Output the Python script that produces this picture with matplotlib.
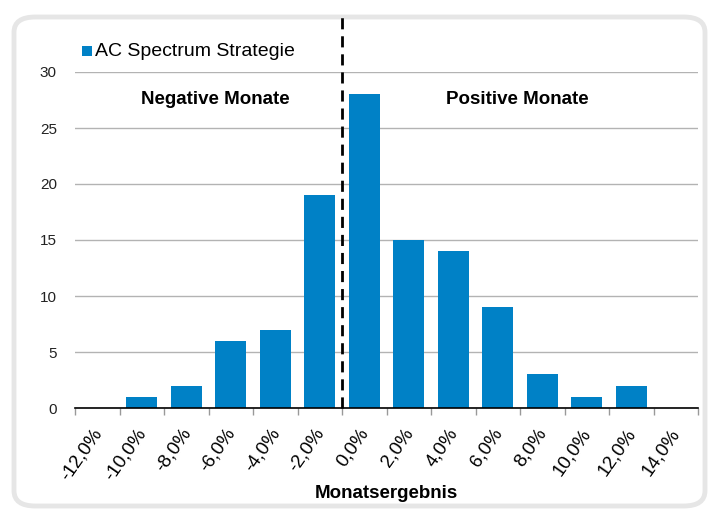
import matplotlib
matplotlib.use("Agg")
import matplotlib.pyplot as plt
from matplotlib.patches import FancyBboxPatch, Rectangle
import matplotlib.transforms as mtransforms

plt.rcParams['font.family'] = ['Liberation Sans', 'DejaVu Sans']

categories = ["-12,0%", "-10,0%", "-8,0%", "-6,0%", "-4,0%", "-2,0%", "0,0%",
              "2,0%", "4,0%", "6,0%", "8,0%", "10,0%", "12,0%", "14,0%"]
values = [0, 1, 2, 6, 7, 19, 28, 15, 14, 9, 3, 1, 2, 0]
series_name = "AC Spectrum Strategie"
yticks = [0, 5, 10, 15, 20, 25, 30]
bar_color = "#0081C6"

W, H = 709, 509
fig = plt.figure(figsize=(W / 100, H / 100), dpi=100)

# rounded frame
frame = FancyBboxPatch((14 / W, 3 / H), (705 - 14) / W, (506 - 17) / H,
                       boxstyle="round,pad=0,rounding_size=0.03",
                       transform=fig.transFigure, facecolor="white",
                       edgecolor="#e6e6e6", linewidth=3.5, zorder=-5)
fig.patches.append(frame)

ax = fig.add_axes([75 / W, 1 - 408 / H, (698 - 75) / W, (408 - 72) / H])
ax.set_facecolor("none")
ax.set_zorder(2)
x = list(range(len(categories)))
ax.bar(x, values, width=0.7, color=bar_color, zorder=3)

ax.set_xlim(-0.5, len(categories) - 0.5)
ax.set_ylim(0, 30)
ax.set_yticks(yticks)
ax.yaxis.grid(True, color="#b3b3b3", linewidth=1, zorder=0)
ax.set_axisbelow(True)
ax.tick_params(axis='y', length=0, pad=13, labelsize=11, labelcolor="#222222")

# x ticks at category boundaries, labels under categories
ax.set_xticks([i - 0.5 for i in range(len(categories) + 1)])
ax.set_xticklabels([])
ax.tick_params(axis='x', which='major', length=5, color="#999999", width=1)
ax.set_xticks(x, minor=True)
ax.set_xticklabels(categories, minor=True, rotation=55, ha='right', va='center',
                   rotation_mode='anchor', fontsize=13.5)
ax.tick_params(axis='x', which='minor', length=0, pad=16)
offset = mtransforms.ScaledTranslation(1 / 100, 0, fig.dpi_scale_trans)
for lbl in ax.get_xticklabels(minor=True):
    lbl.set_transform(lbl.get_transform() + offset)

for s in ["top", "right", "left"]:
    ax.spines[s].set_visible(False)
ax.spines["bottom"].set_color("black")
ax.spines["bottom"].set_linewidth(1.2)
ax.spines["bottom"].set_zorder(4)

ax.set_xlabel("Monatsergebnis", fontsize=13.5, fontweight='bold')
ax.xaxis.set_label_coords(0.5, -0.228)

# dashed separator between -2% and 0%
ax.plot([5.5, 5.5], [0, 35.3], color="black", linestyle=(0, (4, 2.5)),
        linewidth=2, clip_on=False, zorder=5)

fig.text(215 / W, 1 - 100 / H, "Negative Monate", fontsize=13.5,
         fontweight='bold', ha='center', va='center')
fig.text(517 / W, 1 - 100 / H, "Positive Monate", fontsize=13.5,
         fontweight='bold', ha='center', va='center')

# legend
fig.patches.append(Rectangle((82 / W, 1 - 56 / H), 10 / W, 10 / H,
                             transform=fig.transFigure, facecolor=bar_color,
                             edgecolor="none"))
fig.text(95 / W, 1 - 51 / H, series_name, fontsize=14, ha='left', va='center')

fig.savefig("out.png", dpi=100)
